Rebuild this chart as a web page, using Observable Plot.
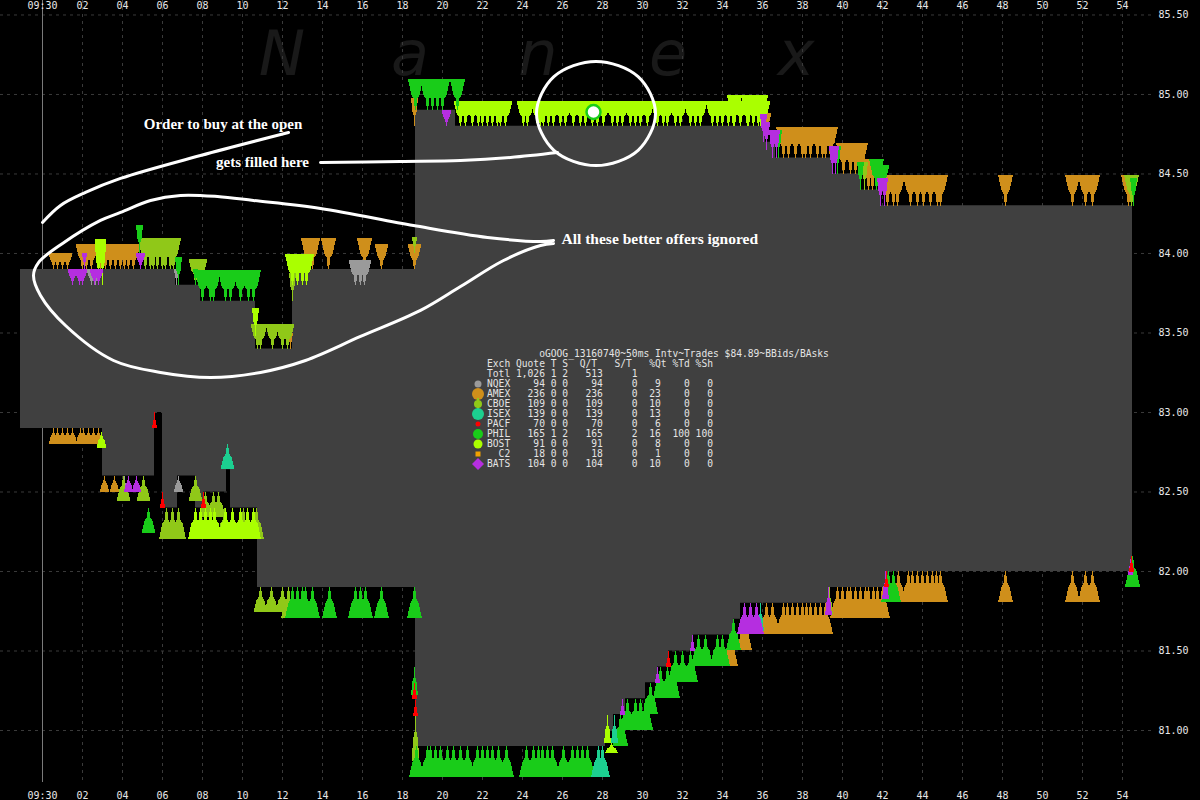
<!DOCTYPE html>
<html><head><meta charset="utf-8">
<script src="https://cdn.jsdelivr.net/npm/d3@7"></script>
<script src="https://cdn.jsdelivr.net/npm/@observablehq/plot@0.6"></script>
<style>
html,body{margin:0;padding:0;background:#000;}
#wrap{position:relative;width:1200px;height:800px;background:#000;overflow:hidden;}
#wm span{position:absolute;top:23px;font:italic 62px "DejaVu Sans";line-height:62px;color:#191919;transform:translateX(-50%);}
#chart{position:absolute;left:0;top:0;}
#legend{position:absolute;left:487px;top:349px;margin:0;font:9.63px/10px "DejaVu Sans Mono";color:#e4e4e4;white-space:pre;}
#legsym{position:absolute;left:0;top:0;}
</style></head>
<body><div id="wrap"><div id="wm"></div><div id="chart"></div><pre id="legend"></pre><svg id="legsym" width="1200" height="800"></svg></div>
<script>
// ---------- data ----------
const xTicks = [0,2,4,6,8,10,12,14,16,18,20,22,24,26,28,30,32,34,36,38,40,42,44,46,48,50,52,54];
const yTicks = [81,81.5,82,82.5,83,83.5,84,84.5,85,85.5];

// NBBO step series (seconds after 09:30:00)
const spreadT   = [-1.1,3.0,5.6,6.0,6.65,6.75,7.65,7.9,8.05,9.2,9.4,10.65,10.75,12.5,18.65,20.65,28.15,28.55,29.15,30.15,30.75,31.3,32.55,34.55,34.9,36.15,36.65,39.3,39.5,40.9,41.9,42.3,54.5];
const spreadAsk = [83.90,83.90,83.90,83.90,83.80,83.80,83.80,83.70,83.70,83.70,83.70,83.40,83.40,83.90,84.90,84.80,84.80,84.80,84.80,84.80,84.80,84.80,84.80,84.80,84.80,84.70,84.60,84.60,84.50,84.40,84.30,84.30,84.30];
const spreadBid = [82.90,82.60,83.00,82.40,82.40,82.60,82.40,82.40,82.50,82.64,82.40,82.40,81.90,81.90,80.90,80.90,81.00,81.10,81.20,81.30,81.40,81.50,81.60,81.70,81.80,81.80,81.80,81.90,81.90,81.90,81.90,82.00,82.00];

// quotes: [seconds, price, size class]
const amexAsk = [[0.55,83.90,"s"],[0.75,83.90,"s"],[1.0,83.90,"s"],[1.25,83.90,"s"],
 [2.0,83.90,"m"],[2.2,83.90,"m"],[2.45,83.90,"m"],[2.9,83.90,"m"],[3.15,83.90,"m"],[3.4,83.90,"m"],[3.65,83.90,"m"],[3.9,83.90,"m"],[4.1,83.90,"m"],[4.3,83.90,"m"],[4.55,83.90,"m"],
 [12.4,83.40,"x"],[13.3,83.90,"l"],[13.5,83.90,"l"],[14.3,83.90,"l"],[16.1,83.90,"l"],[16.95,83.90,"m"],[18.6,83.90,"m"],[18.6,84.80,"n"],
 [36.2,84.78,"s"],
 [37.05,84.60,"l"],[37.3,84.60,"l"],[37.65,84.60,"l"],[38.0,84.60,"l"],[38.15,84.60,"l"],[38.4,84.60,"l"],[38.75,84.60,"l"],[39.0,84.60,"l"],[39.15,84.60,"l"],[39.4,84.60,"l"],
 [40.05,84.50,"l"],[40.4,84.50,"l"],[40.65,84.50,"l"],[40.9,84.50,"l"],[41.3,84.40,"l"],[41.5,84.40,"l"],
 [42.25,84.30,"l"],[42.55,84.30,"l"],[42.75,84.30,"l"],[43.4,84.30,"l"],[43.75,84.30,"l"],[44.05,84.30,"l"],[44.4,84.30,"l"],[44.75,84.30,"l"],[44.9,84.30,"l"],
 [48.15,84.30,"l"],[51.5,84.30,"l"],[52.15,84.30,"l"],[52.5,84.30,"l"],[54.3,84.30,"l"]];
const amexBid = [[0.55,82.90,"s"],[0.75,82.90,"s"],[1.0,82.90,"s"],[1.25,82.90,"s"],[1.5,82.90,"s"],[1.9,82.90,"s"],[2.05,82.90,"s"],[2.3,82.90,"s"],[2.55,82.90,"s"],[2.8,82.90,"s"],
 [3.1,82.60,"s"],[3.6,82.60,"s"],[34.4,81.60,"l"],[35.1,81.70,"l"],
 [36.2,81.80,"l"],[36.5,81.80,"l"],[37.05,81.80,"l"],[37.25,81.80,"l"],[37.5,81.80,"l"],[37.75,81.80,"l"],[38.0,81.80,"l"],[38.2,81.80,"l"],[38.4,81.80,"l"],[38.65,81.80,"l"],[38.9,81.80,"l"],[39.15,81.80,"l"],
 [39.75,81.90,"l"],[40.0,81.90,"l"],[40.25,81.90,"l"],[40.4,81.90,"l"],[40.65,81.90,"l"],[40.9,81.90,"l"],[41.15,81.90,"l"],[41.3,81.90,"l"],[41.55,81.90,"l"],[41.75,81.90,"l"],[42.0,81.90,"l"],
 [42.8,82.00,"l"],[43.3,82.00,"l"],[43.5,82.00,"l"],[43.75,82.00,"l"],[44.0,82.00,"l"],[44.25,82.00,"l"],[44.5,82.00,"l"],[44.7,82.00,"l"],[44.9,82.00,"l"],
 [48.15,82.00,"l"],[51.5,82.00,"l"],[52.15,82.00,"l"],[52.5,82.00,"l"]];
const nqexAsk = [[2.45,83.80,"s"],[2.65,83.80,"s"],[6.7,83.80,"x"],[15.65,83.80,"m"],[15.9,83.80,"m"],[16.1,83.80,"m"]];
const nqexBid = [[4.1,82.60,"x"],[6.8,82.60,"s"]];
const cboeAsk = [[5.15,83.90,"l"],[5.4,83.90,"l"],[5.55,83.90,"l"],[5.75,83.90,"l"],[6.0,83.90,"l"],[6.15,83.90,"l"],[6.4,83.90,"l"],[6.55,83.90,"l"],
 [7.65,83.81,"m"],[7.9,83.81,"m"],[10.75,83.40,"m"],[10.9,83.40,"m"],[11.5,83.40,"m"],[12.0,83.40,"m"],[12.25,83.40,"m"],[12.5,83.70,"n"],[18.6,84.00,"x"],
 [41.1,84.40,"n"],[54.45,84.30,"l"]];
const cboeBid = [[4.05,82.60,"m"],[5.05,82.60,"m"],[6.2,82.40,"l"],[6.5,82.40,"l"],[6.8,82.40,"l"],[7.65,82.60,"m"],[8.15,82.50,"m"],[8.55,82.50,"m"],[8.8,82.50,"m"],
 [9.1,82.40,"l"],[10.05,82.40,"l"],[10.7,82.40,"l"],[10.9,81.90,"m"],[11.45,81.90,"m"],[12.0,81.90,"m"],[12.3,81.90,"l"],[18.65,81.10,"t"],[39.35,81.90,"n"]];
const bostAsk = [[2.8,83.80,"t"],[3.0,83.80,"t"],[10.65,83.48,"n"],[12.5,83.80,"l"],[12.75,83.80,"l"],[13.0,83.80,"l"],[13.2,83.80,"l"],
 [20.9,84.80,"m"],[21.15,84.80,"m"],[21.5,84.80,"m"],[21.8,84.80,"m"],[22.0,84.80,"m"],[22.25,84.80,"m"],[22.5,84.80,"m"],[22.75,84.80,"m"],[22.9,84.80,"m"],[23.15,84.80,"m"],
 [24.05,84.80,"m"],[24.25,84.80,"m"],[24.75,84.80,"m"],[24.9,84.80,"m"],[25.05,84.80,"m"],[25.3,84.80,"m"],[25.55,84.80,"m"],[25.9,84.80,"m"],[26.15,84.80,"m"],[26.55,84.80,"m"],
 [26.9,84.80,"m"],[27.15,84.80,"m"],[27.5,84.80,"m"],[27.75,84.80,"m"],[28.05,84.80,"m"],[28.5,84.80,"m"],[28.75,84.80,"m"],[29.0,84.80,"m"],[29.4,84.80,"m"],[29.65,84.80,"m"],
 [29.9,84.80,"m"],[30.25,84.80,"m"],[30.75,84.80,"m"],[31.05,84.80,"m"],[31.25,84.80,"m"],[31.65,84.80,"m"],[31.9,84.80,"m"],[32.4,84.80,"m"],[32.65,84.80,"m"],[32.9,84.80,"m"],
 [33.5,84.80,"m"],[33.75,84.80,"m"],[34.0,84.80,"m"],[34.3,84.80,"m"],[34.55,84.80,"m"],[34.9,84.80,"m"],[35.25,84.80,"m"],[35.55,84.80,"m"],[35.8,84.80,"m"],[36.05,84.80,"m"],
 [34.6,84.80,"l"],[35.3,84.80,"l"],[35.9,84.80,"l"]];
const bostBid = [[2.95,82.88,"s"],[7.65,82.40,"l"],[7.9,82.40,"l"],[8.15,82.40,"l"],[8.4,82.40,"l"],[8.6,82.40,"l"],
 [9.15,82.40,"l"],[9.5,82.40,"l"],[9.9,82.40,"l"],[10.25,82.40,"l"],[10.55,82.40,"l"],[28.25,81.10,"n"],[28.45,80.92,"w"]];
const philAsk = [[4.85,84.00,"n"],[6.8,83.80,"n"],[7.65,83.80,"x"],[8.0,83.70,"l"],[8.4,83.70,"l"],[8.55,83.70,"l"],[9.15,83.70,"l"],[9.4,83.70,"l"],[9.9,83.70,"l"],[10.3,83.70,"l"],[10.55,83.70,"l"],
 [18.65,84.90,"l"],[19.25,84.90,"l"],[19.5,84.90,"l"],[19.75,84.90,"l"],[20.0,84.90,"l"],[20.75,84.90,"l"],
 [36.8,84.60,"n"],[39.75,84.50,"n"],[40.9,84.40,"n"],[41.7,84.40,"l"],[42.0,84.40,"m"],[54.55,84.30,"n"]];
const philBid = [[5.3,82.40,"m"],[12.5,81.90,"l"],[12.75,81.90,"l"],[13.0,81.90,"l"],[13.15,81.90,"l"],[13.5,81.90,"l"],[14.35,81.90,"l"],[15.65,81.90,"l"],[15.9,81.90,"l"],[16.15,81.90,"l"],[16.95,81.90,"l"],[18.6,81.90,"l"],
 [18.6,81.40,"n"],
 [18.7,80.90,"l"],[19.25,80.90,"l"],[19.4,80.90,"l"],[19.65,80.90,"l"],[19.9,80.90,"l"],[20.25,80.90,"l"],[20.55,80.90,"l"],[20.9,80.90,"l"],[21.25,80.90,"l"],[21.75,80.90,"l"],[22.0,80.90,"l"],[22.25,80.90,"l"],[22.5,80.90,"l"],[22.8,80.90,"l"],[23.2,80.90,"l"],
 [24.2,80.90,"l"],[24.55,80.90,"l"],[24.8,80.90,"l"],[25.0,80.90,"l"],[25.25,80.90,"l"],[25.5,80.90,"l"],[26.05,80.90,"l"],[26.5,80.90,"l"],[26.75,80.90,"l"],[27.0,80.90,"l"],[27.25,80.90,"l"],
 [28.9,81.10,"l"],[29.25,81.20,"l"],[29.65,81.20,"l"],[29.9,81.20,"l"],[30.15,81.20,"l"],[30.4,81.30,"l"],[30.9,81.40,"l"],[31.25,81.40,"l"],[31.5,81.40,"l"],
 [31.65,81.50,"l"],[32.0,81.50,"l"],[32.4,81.50,"l"],[32.8,81.60,"l"],[33.15,81.60,"l"],[33.75,81.60,"l"],[34.0,81.60,"l"],[34.55,81.70,"l"],
 [42.3,82.00,"l"],[42.55,82.00,"l"],[54.5,82.10,"l"]];
const isexBid = [[9.25,82.80,"m"],[27.8,80.90,"l"],[28.0,80.90,"l"],[28.6,81.10,"n"],[35.9,81.80,"n"]];
const batsAsk = [[1.5,83.80,"s"],[1.85,83.80,"s"],[2.0,83.80,"s"],[2.1,83.90,"x"],[2.6,83.80,"s"],[2.8,83.80,"s"],[4.9,83.90,"s"],[20.2,84.80,"s"],
 [36.05,84.70,"n"],[36.2,84.65,"n"],[36.5,84.60,"n"],[36.7,84.60,"n"],[39.5,84.50,"n"],[39.65,84.50,"n"],[41.9,84.30,"n"],[42.1,84.30,"n"]];
const batsBid = [[4.3,82.60,"s"],[4.7,82.60,"s"],[29.0,81.20,"x"],[30.75,81.40,"x"],[32.5,81.60,"x"],[35.1,81.80,"l"],[35.4,81.80,"l"],[35.7,81.80,"l"],[39.3,81.90,"n"],[42.15,82.00,"n"],[54.4,82.08,"x"]];
const pacfBid = [[5.6,83.00,"x"],[6.0,82.50,"x"],[8.05,82.50,"x"],[18.6,81.30,"x"],[18.65,81.19,"x"],[31.3,81.50,"x"],[42.2,82.00,"x"],[54.45,82.10,"x"]];

const trades = [{t:27.55, price:84.89, exch:"PHIL"}];

// legend table
const exchanges  = ["NQEX","AMEX","CBOE","ISEX","PACF","PHIL","BOST","C2","BATS"];
const quoteCount = [94,236,109,139,70,165,91,18,104];
const tradeCount = [0,0,0,0,0,1,0,0,0];
const sizeCount  = [0,0,0,0,0,2,0,0,0];
const qtRatio    = [94,236,109,139,70,165,91,18,104];
const stRatio    = [0,0,0,0,0,2,0,0,0];
const pctQt      = [9,23,10,13,6,16,8,1,10];
const pctTd      = [0,0,0,0,0,100,0,0,0];
const pctSh      = [0,0,0,0,0,100,0,0,0];
const totals = {quote:"1,026", t:1, s:2, qt:513, st:1};
const legendTitle = "oGOOG_13160740~50ms Intv~Trades $84.89~BBids/BAsks";

// annotations (seconds, price)
const buyLine = [[0,84.195],[0.9,84.302],[2.15,84.384],[3.9,84.472],[7.9,84.616],[12.3,84.761]];
const fillLine = [[13.9,84.572],[17.9,84.579],[20.9,84.585],[23.4,84.604],[25.75,84.635]];
const fillCircle = [[27.675,85.208],[29.78,85.112],[30.65,84.881],[29.78,84.649],[27.675,84.553],[25.57,84.649],[24.7,84.881],[25.57,85.112]];
const ignoredLoop = [[25.55,84.082],[24.9,84.075],[22.25,84.101],[18.55,84.176],[13.9,84.283],[10.55,84.333],[8.75,84.358],[6.9,84.365],[5.4,84.333],[3.9,84.258],[2.9,84.208],[1.0,84.063],[-0.2,83.943],[-0.45,83.862],[-0.1,83.736],[1.15,83.547],[3.55,83.327],[5.9,83.252],[8.4,83.220],[10.9,83.252],[13.15,83.327],[15.9,83.478],[18.9,83.642],[20.9,83.792],[23.05,83.956],[24.9,84.050],[25.55,84.063]];
const centeredNotes = [
  {t:9.025, price:84.811, text:"Order to buy at the open"},
  {t:11.0, price:84.572, text:"gets filled here"}
];
const leftNotes = [
  {t:25.95, price:84.088, text:"All these better offers ignored"}
];

// ---------- styles ----------
const colors = {NQEX:"#9a9a9a", AMEX:"#cf8f1b", CBOE:"#90c818", ISEX:"#1ccf90", PACF:"#ff0000", PHIL:"#19cc19", BOST:"#aaff00", C2:"#f0a000", BATS:"#b52ee0"};
const sizeCodes = {s:[5,16], m:[7,25], l:[7.5,31], n:[3.5,28], t:[4,46], x:[2.5,16], w:[7,10]};

// quote marker: wide near the base, tapering to a thin spike at the quoted price
const firTree = {
  draw(context, l, r) {
    context.moveTo(-r, 0);
    context.lineTo(r, 0);
    context.lineTo(r * 0.55, -l * 0.5);
    context.lineTo(r * 0.25, -l * 0.62);
    context.lineTo(r * 0.12, -l * 0.9);
    context.lineTo(0, -l);
    context.lineTo(-r * 0.12, -l * 0.9);
    context.lineTo(-r * 0.25, -l * 0.62);
    context.lineTo(-r * 0.55, -l * 0.5);
    context.closePath();
  }
};

function quoteMarks(rows, color, side){
  const data = rows.map(([t,price,k])=>({t,price,k}));
  return d3.groups(data, d=>d.k).map(([k,g]) => Plot.vector(g, {
    x:"t", y:"price", shape:firTree, anchor:"end", rotate: side==="ask"?180:0,
    r:sizeCodes[k][0], length:sizeCodes[k][1], fill:color, stroke:"none", shapeRendering:"crispEdges"
  }));
}
const spread = spreadT.map((t,i)=>({t, ask:spreadAsk[i], bid:spreadBid[i]}));
const fmtX = d => d===0 ? "09:30" : String(d).padStart(2,"0");
const grid = {stroke:"#3a3a3a", strokeOpacity:1, strokeDasharray:"3,4"};
const P = d=>d[0], Q = d=>d[1];
const noteStyle = {x:"t", y:"price", text:"text", fill:"#fff", fontFamily:"Liberation Serif", fontWeight:"bold", fontSize:15, lineAnchor:"middle"};
const annoLine = {x:P, y:Q, stroke:"#fff", strokeWidth:3};

const chart = Plot.plot({
  width:1200, height:800,
  marginLeft:0, marginRight:45, marginTop:0, marginBottom:18,
  x:{domain:[-2.1,55.65]},
  y:{domain:[80.673,85.591]},
  style:{background:"transparent", color:"#e8e8e8", fontFamily:"DejaVu Sans Mono", fontSize:"10px"},
  marks:[
    Plot.gridX(xTicks, grid),
    Plot.gridY(yTicks, grid),
    Plot.ruleX([0], {stroke:"#7a7a7a"}),
    Plot.areaY(spread, {x:"t", y1:"bid", y2:"ask", curve:"step-after", fill:"#404040"}),
    ...quoteMarks(amexAsk, colors.AMEX, "ask"), ...quoteMarks(amexBid, colors.AMEX, "bid"),
    ...quoteMarks(nqexAsk, colors.NQEX, "ask"), ...quoteMarks(nqexBid, colors.NQEX, "bid"),
    ...quoteMarks(cboeAsk, colors.CBOE, "ask"), ...quoteMarks(cboeBid, colors.CBOE, "bid"),
    ...quoteMarks(bostAsk, colors.BOST, "ask"), ...quoteMarks(bostBid, colors.BOST, "bid"),
    ...quoteMarks(philAsk, colors.PHIL, "ask"), ...quoteMarks(philBid, colors.PHIL, "bid"),
    ...quoteMarks(isexBid, colors.ISEX, "bid"),
    ...quoteMarks(batsAsk, colors.BATS, "ask"), ...quoteMarks(batsBid, colors.BATS, "bid"),
    ...quoteMarks(pacfBid, colors.PACF, "bid"),
    Plot.dot(trades, {x:"t", y:"price", r:7, fill:"#ffffff", stroke:colors.PHIL, strokeWidth:2.5}),
    Plot.line(buyLine, {...annoLine, curve:"catmull-rom"}),
    Plot.line(fillLine, {...annoLine, curve:"catmull-rom"}),
    Plot.line(fillCircle, {...annoLine, curve:"catmull-rom-closed"}),
    Plot.line(ignoredLoop, {...annoLine, curve:"catmull-rom"}),
    Plot.text(centeredNotes, {...noteStyle, textAnchor:"middle"}),
    Plot.text(leftNotes, {...noteStyle, textAnchor:"start", fontSize:15.5}),
    Plot.text(xTicks, {x:d=>d, frameAnchor:"top", dy:5, lineAnchor:"middle", text:fmtX, fill:"#e8e8e8"}),
    Plot.axisX({anchor:"bottom", ticks:xTicks, tickFormat:fmtX, tickSize:0, tickPadding:9, label:null}),
    Plot.axisY({anchor:"right", ticks:yTicks, tickFormat:d=>d.toFixed(2), tickSize:0, tickPadding:3, label:null})
  ]
});
document.getElementById("chart").append(chart);

// watermark
const wmLetters = ["N","a","n","e","x"];
const wmLeft = [282,410,538,668,796];
const wm = document.getElementById("wm");
wmLetters.forEach((c,i)=>{const s=document.createElement("span"); s.textContent=c; s.style.left=wmLeft[i]+"px"; wm.append(s);});

// legend text
const lines = [];
lines.push(" ".repeat(9) + legendTitle);
lines.push("Exch Quote T S  Q/T   S/T   %Qt %Td %Sh");
lines.push("Totl " + totals.quote.padStart(5) + " " + totals.t + " " + totals.s + String(totals.qt).padStart(6) + String(totals.st).padStart(6));
exchanges.forEach((e,i)=>{
  lines.push(e.padStart(4) + " " + String(quoteCount[i]).padStart(5) + " " + tradeCount[i] + " " + sizeCount[i] +
    String(qtRatio[i]).padStart(6) + String(stRatio[i]).padStart(6) + String(pctQt[i]).padStart(4) +
    String(pctTd[i]).padStart(5) + String(pctSh[i]).padStart(4));
});
document.getElementById("legend").textContent = lines.join("\n");

// legend symbols
const sym = d3.select("#legsym");
const sx = 478;
exchanges.forEach((e,i)=>{
  const y = 384 + 10*i, c = colors[e];
  if (e==="NQEX") sym.append("circle").attr("cx",sx).attr("cy",y).attr("r",3.5).attr("fill",c);
  if (e==="AMEX") sym.append("circle").attr("cx",sx).attr("cy",y).attr("r",6).attr("fill",c);
  if (e==="CBOE") { sym.append("rect").attr("x",sx-1).attr("y",y-6).attr("width",2).attr("height",12).attr("fill",c);
                    sym.append("circle").attr("cx",sx).attr("cy",y).attr("r",4).attr("fill",c); }
  if (e==="ISEX") sym.append("circle").attr("cx",sx).attr("cy",y).attr("r",6).attr("fill",c);
  if (e==="PACF") sym.append("circle").attr("cx",sx).attr("cy",y).attr("r",2.5).attr("fill",c);
  if (e==="PHIL") sym.append("circle").attr("cx",sx).attr("cy",y).attr("r",5).attr("fill",c);
  if (e==="BOST") sym.append("circle").attr("cx",sx).attr("cy",y).attr("r",4.5).attr("fill",c);
  if (e==="C2")   sym.append("rect").attr("x",sx-2.5).attr("y",y-2.5).attr("width",5).attr("height",5).attr("fill",c);
  if (e==="BATS") sym.append("path").attr("d",`M${sx},${y-6}L${sx+6},${y}L${sx},${y+6}L${sx-6},${y}Z`).attr("fill",c);
});
</script></body></html>
